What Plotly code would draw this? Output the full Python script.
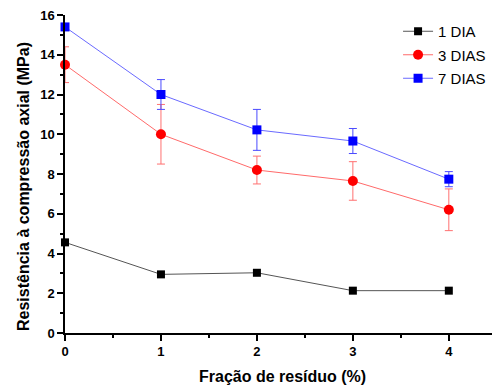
import plotly.graph_objects as go

x_vals = [0, 1, 2, 3, 4]
dia1 = [4.56, 2.95, 3.03, 2.13, 2.13]
dias3 = [13.5, 10.0, 8.2, 7.65, 6.2]
dias3_err = [0.9, 1.5, 0.7, 0.97, 1.05]
dias7 = [15.4, 12.0, 10.22, 9.66, 7.74]
dias7_err = [0.05, 0.75, 1.03, 0.63, 0.38]
x_title = "Fração de resíduo (%)"
y_title = "Resistência à compressão axial (MPa)"

FONT = "Liberation Sans, Arial, sans-serif"

fig = go.Figure()
fig.add_trace(go.Scatter(
    x=x_vals, y=dia1, name="1 DIA", mode="lines+markers", legendgroup="a",
    line=dict(color="#555555", width=1),
    marker=dict(symbol="square", size=8, color="black"),
    cliponaxis=False))
fig.add_trace(go.Scatter(
    x=x_vals, y=dias3, name="3 DIAS", mode="lines+markers", legendgroup="b",
    line=dict(color="#ff6a6a", width=1),
    marker=dict(symbol="circle", size=10, color="#ff0000"),
    error_y=dict(type="data", array=dias3_err, color="#ff7070", thickness=1, width=4),
    cliponaxis=False))
fig.add_trace(go.Scatter(
    x=x_vals, y=dias7, name="7 DIAS", mode="lines+markers", legendgroup="c",
    line=dict(color="#6a6aff", width=1),
    marker=dict(symbol="square", size=9, color="#0000ff"),
    error_y=dict(type="data", array=dias7_err, color="#4a4aff", thickness=1, width=4),
    cliponaxis=False))

fig.update_layout(
    width=492, height=388,
    margin=dict(l=65, r=0, t=15, b=55, autoexpand=False),
    paper_bgcolor="white", plot_bgcolor="white",
    font=dict(family=FONT, color="black"),
    showlegend=True,
    legend=dict(x=0.78, y=1.0, xanchor="left", yanchor="top",
                font=dict(size=15, family=FONT), bgcolor="rgba(0,0,0,0)",
                tracegroupgap=1, itemwidth=30),
    xaxis=dict(range=[0, 4.45], tickvals=[0, 1, 2, 3, 4], showgrid=False, zeroline=False,
               showline=True, linecolor="black", linewidth=1.5, automargin=False,
               ticks="outside", ticklen=6, tickwidth=1.5, tickcolor="black",
               tickfont=dict(size=13, family=FONT, weight="bold"),
               minor=dict(dtick=0.5, ticks="outside", ticklen=3, tickwidth=1.5, tickcolor="black")),
    yaxis=dict(range=[0, 16], dtick=2, showgrid=False, zeroline=False,
               showline=True, linecolor="black", linewidth=1.5, automargin=False,
               ticks="outside", ticklen=6, tickwidth=1.5, tickcolor="black",
               tickfont=dict(size=13, family=FONT, weight="bold"),
               minor=dict(dtick=1, ticks="outside", ticklen=3, tickwidth=1.5, tickcolor="black")),
    annotations=[
        dict(text="<b>" + x_title + "</b>", xref="paper", yref="paper",
             x=(282 - 65) / 427, y=-(376 - 333) / 318, xanchor="center", yanchor="middle",
             showarrow=False, font=dict(size=16, family=FONT)),
        dict(text="<b>" + y_title + "</b>", xref="paper", yref="paper",
             x=-(65 - 23) / 427, y=(333 - 187) / 318, xanchor="center", yanchor="middle",
             textangle=-90, showarrow=False, font=dict(size=16, family=FONT)),
    ],
)

fig.write_html("out.html", config={"displayModeBar": False},
               post_script="document.body.style.margin='0';")
